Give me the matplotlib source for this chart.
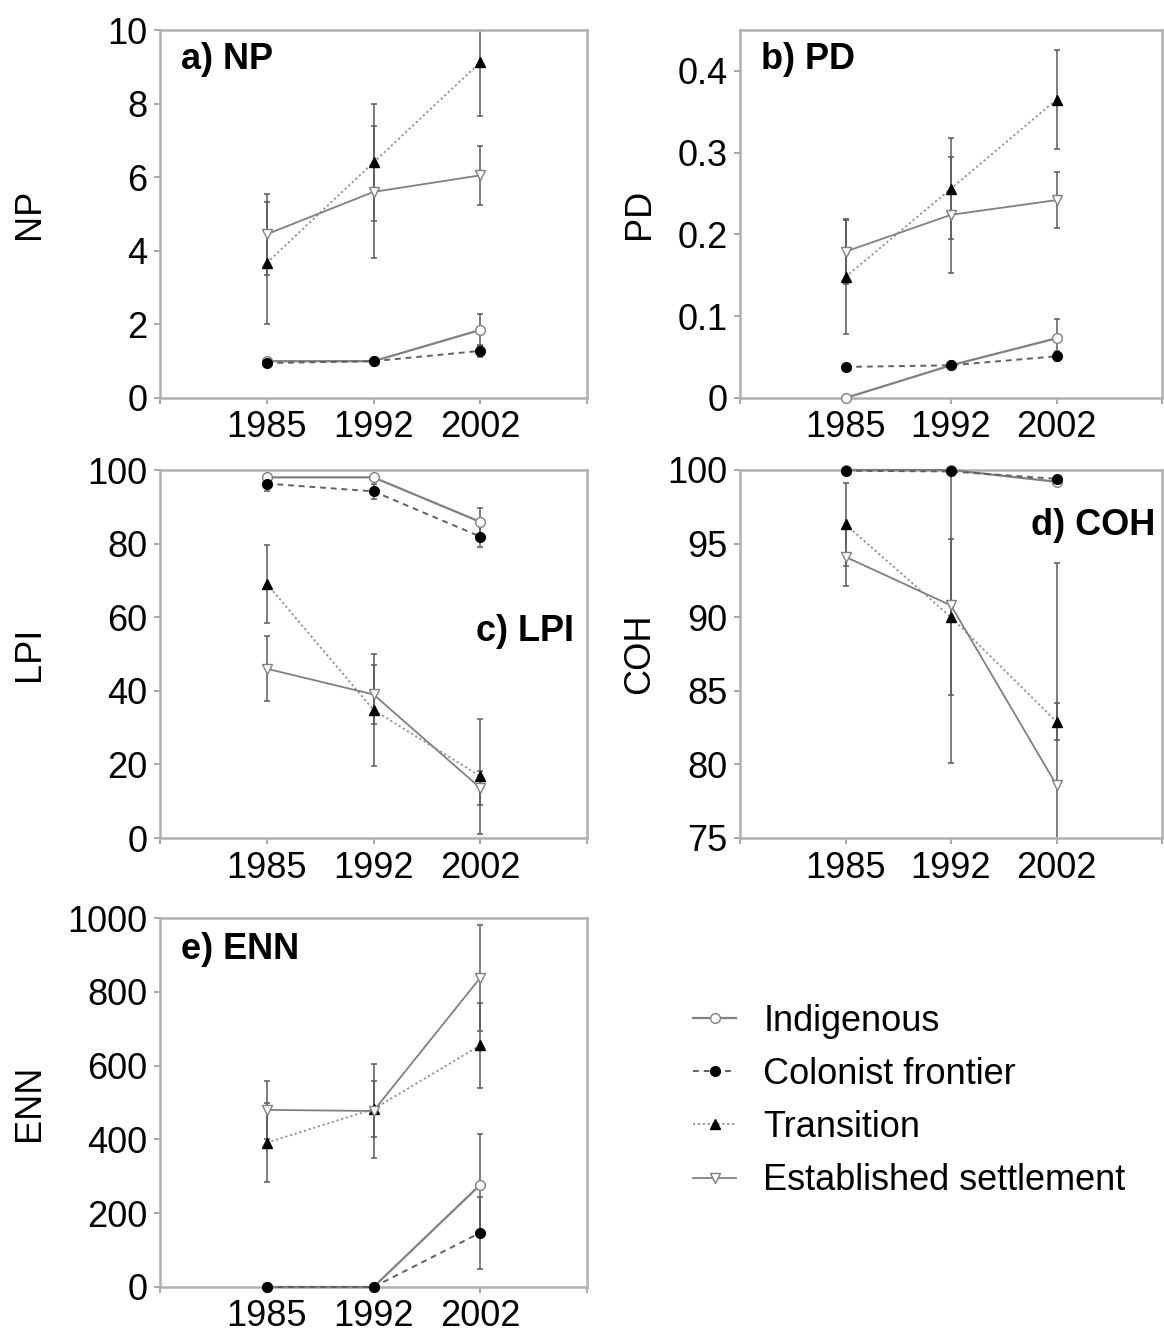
import numpy as np
import matplotlib
matplotlib.use("Agg")
import matplotlib.pyplot as plt

plt.rcParams['font.family'] = ['Liberation Sans', 'DejaVu Sans']

years = ['1985', '1992', '2002']
series = ['Indigenous', 'Colonist frontier', 'Transition', 'Established settlement']

# NP
np_mean = [[1.0, 1.0, 1.85], [0.95, 1.0, 1.28], [3.67, 6.4, 9.12], [4.45, 5.6, 6.05]]
np_err = [[0, 0, 0.43], [0.05, 0.05, 0.17], [1.65, 1.6, 1.45], [1.1, 1.8, 0.8]]
# PD
pd_mean = [[0.0, 0.040, 0.073], [0.038, 0.040, 0.051], [0.148, 0.256, 0.365], [0.179, 0.224, 0.242]]
pd_err = [[0, 0, 0.024], [0, 0, 0.006], [0.07, 0.062, 0.06], [0.04, 0.071, 0.034]]
# LPI
lpi_mean = [[98.0, 98.0, 85.9], [96.3, 94.2, 81.9], [69.1, 34.8, 16.8], [46.0, 39.0, 13.6]]
lpi_err = [[0.8, 0.8, 3.7], [2.0, 2.0, 2.8], [10.6, 15.2, 15.6], [8.8, 8.0, 4.5]]
# COH
coh_mean = [[100.0, 100.0, 99.2], [99.95, 99.9, 99.4], [96.3, 90.0, 82.9], [94.1, 90.8, 78.6]]
coh_err = [[0, 0, 0.2], [0, 0, 0.1], [2.8, 5.3, 1.25], [2.0, 10.7, 15.1]]
# ENN
enn_mean = [[0, 0, 277], [0, 0, 147], [391, 482, 655], [480, 477, 838]]
enn_err = [[0, 0, 138], [0, 0, 97], [107, 75, 115], [79, 127, 144]]

styles = [
    dict(color='#808080', ls='-', lw=1.6, marker='o', mfc='white', mec='#808080', ms=7),
    dict(color='#606060', ls=(0, (3, 2.5)), lw=1.4, marker='o', mfc='black', mec='black', ms=7),
    dict(color='#909090', ls=(0, (1.2, 1.5)), lw=1.3, marker='^', mfc='black', mec='black', ms=7),
    dict(color='#808080', ls='-', lw=1.3, marker='v', mfc='white', mec='#808080', ms=7),
]

FS = 26
fig = plt.figure(figsize=(11.64, 13.37), dpi=100)

W, H = 1164, 1337


def box(l, t, r, b):
    return [l / W, 1 - b / H, (r - l) / W, (b - t) / H]


panels = [
    (box(160, 30, 587, 398), np_mean, np_err, (0, 10), [0, 2, 4, 6, 8, 10], ['0', '2', '4', '6', '8', '10'],
     'NP', 47, 'a) NP', (0.05, 0.92, 'left')),
    (box(740, 30, 1162, 398), pd_mean, pd_err, (0, 0.45), [0, 0.1, 0.2, 0.3, 0.4], ['0', '0.1', '0.2', '0.3', '0.4'],
     'PD', 657, 'b) PD', (0.05, 0.92, 'left')),
    (box(160, 470, 587, 838), lpi_mean, lpi_err, (0, 100), [0, 20, 40, 60, 80, 100],
     ['0', '20', '40', '60', '80', '100'], 'LPI', 47, 'c) LPI', (0.97, 0.56, 'right')),
    (box(740, 470, 1162, 838), coh_mean, coh_err, (75, 100), [75, 80, 85, 90, 95, 100],
     ['75', '80', '85', '90', '95', '100'], 'COH', 657, 'd) COH', (0.985, 0.85, 'right')),
    (box(160, 918, 587, 1287), enn_mean, enn_err, (0, 1000), [0, 200, 400, 600, 800, 1000],
     ['0', '200', '400', '600', '800', '1000'], 'ENN', 47, 'e) ENN', (0.05, 0.915, 'left')),
]

x = np.arange(1, 4)
handles = []
for rect, means, errs, ylim, yt, ytl, ylab, labx, ptxt, (px, py, ha) in panels:
    ax = fig.add_axes(rect)
    for i in range(4):
        ax.errorbar(x, means[i], yerr=errs[i], fmt='none', ecolor='#5a5a5a', elinewidth=1.1,
                    capsize=2.5, capthick=1.1, zorder=2)
    lines = []
    for i in range(4):
        ln, = ax.plot(x, means[i], label=series[i], clip_on=False, zorder=3, **styles[i])
        lines.append(ln)
    handles = lines
    ax.set_xlim(0, 4)
    ax.set_ylim(*ylim)
    ax.set_xticks([0, 1, 2, 3, 4])
    ax.set_xticklabels(['', '1985', '1992', '2002', ''])
    ax.set_yticks(yt)
    ax.set_yticklabels(ytl)
    ax.tick_params(direction='out', length=4, width=1.2, color='#999999', labelsize=FS, pad=5)
    for s in ax.spines.values():
        s.set_color('#b0b0b0')
        s.set_linewidth(1.8)
    ax.set_ylabel(ylab, fontsize=FS)
    ax.yaxis.set_label_coords((labx - rect[0] * W) / (rect[2] * W), 0.5)
    ax.text(px, py, ptxt, transform=ax.transAxes, fontsize=FS, fontweight='bold', ha=ha, va='center')

fig.legend(handles=handles, labels=series, loc='upper left', bbox_to_anchor=(693 / W, 1 - 1004 / H),
           frameon=False, fontsize=26, handlelength=1.2, handletextpad=0.75, labelspacing=0.5,
           borderpad=0, borderaxespad=0)

fig.savefig('out.png', dpi=100)
